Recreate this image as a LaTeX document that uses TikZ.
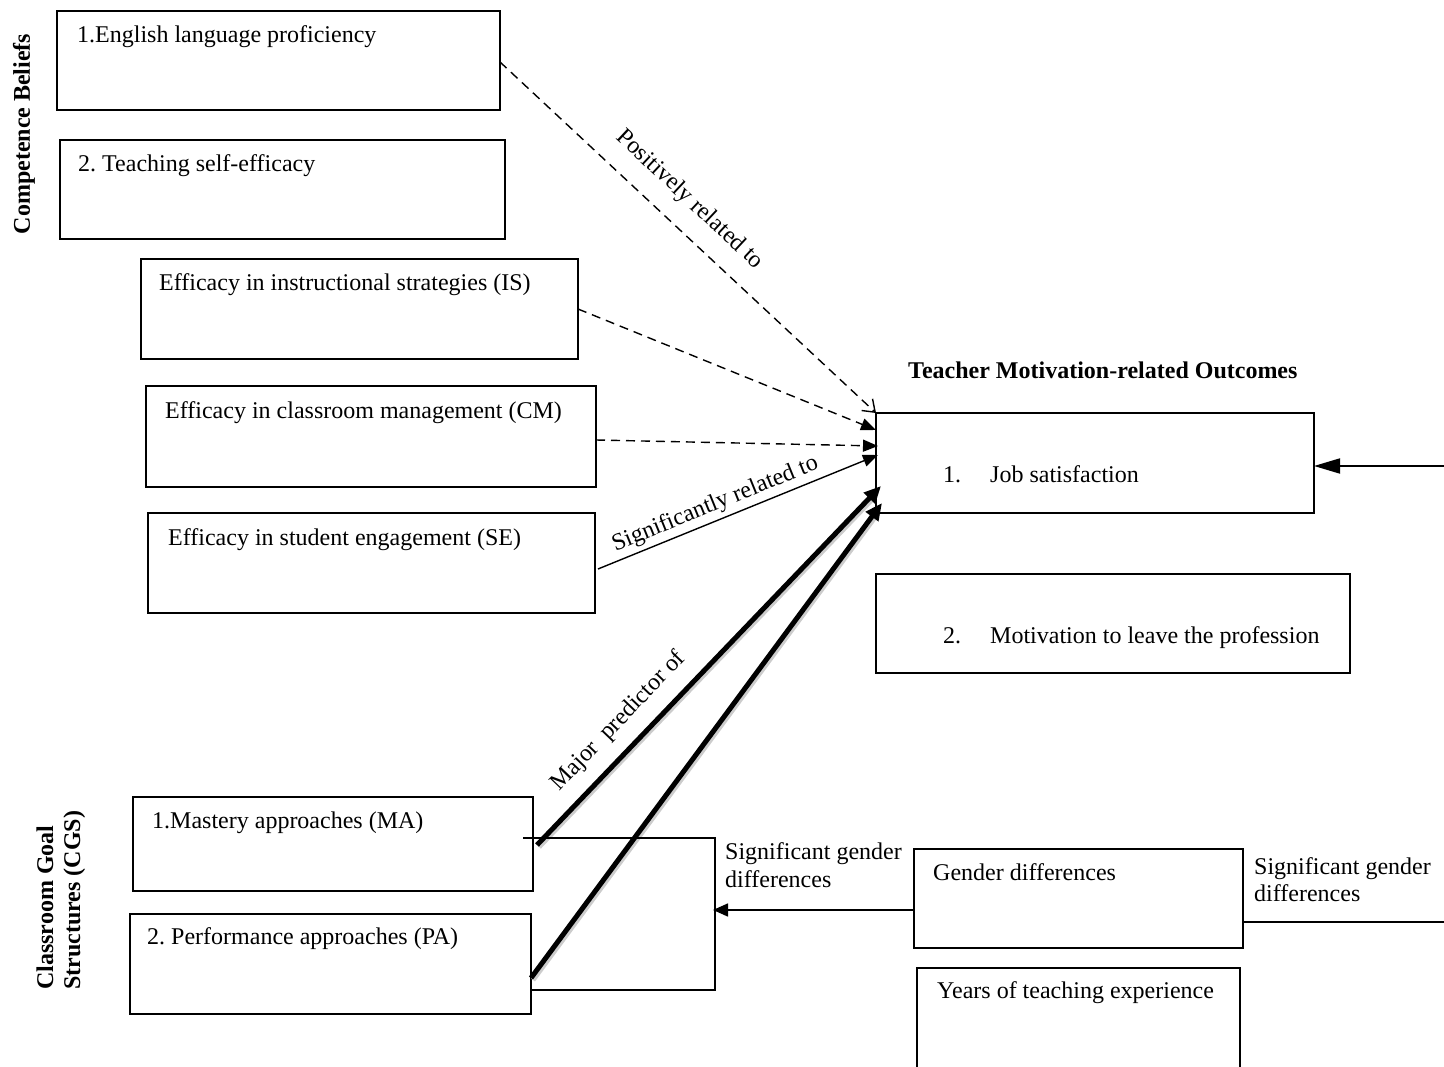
\documentclass[tikz,border=0pt]{standalone}
\usepackage{fontspec}
\setmainfont{Liberation Serif}
\usetikzlibrary{arrows.meta,calc}
\begin{document}
\frenchspacing
\begin{tikzpicture}[x=1pt,y=-1pt,
  box/.style={draw, line width=1.6pt, inner sep=0pt, outer sep=0pt, anchor=north west},
  txt/.style={inner sep=0pt, anchor=base west, font=\fontsize{24}{28}\selectfont\frenchspacing},
  btxt/.style={inner sep=0pt, font=\fontsize{24}{28}\selectfont\bfseries},
  dashln/.style={line width=1.4pt, dash pattern=on 9pt off 6pt},
  tri/.style={-{Triangle[length=15pt,width=12pt]}},
  thickln/.style={line width=5pt, -{Triangle[length=17pt,width=15pt]}},
  shadowln/.style={line width=5pt, draw=black!20, shorten >=12pt, transform canvas={shift={(2pt,-2pt)}}},
  lbl/.style={inner sep=0pt, sloped, font=\fontsize{24}{28}\selectfont},
]
\useasboundingbox (0,0) rectangle (1444,1067);
\clip (0,0) rectangle (1444,1067);

% boxes
\node[box, minimum width=443pt, minimum height=99pt]  (b1)  at (57,11)  {};
\node[box, minimum width=445pt, minimum height=99pt]  (b2)  at (60,140) {};
\node[box, minimum width=437pt, minimum height=100pt] (is)  at (141,259) {};
\node[box, minimum width=450pt, minimum height=101pt] (cm)  at (146,386) {};
\node[box, minimum width=447pt, minimum height=100pt] (se)  at (148,513) {};
\node[box, minimum width=438pt, minimum height=100pt] (job) at (876,413) {};
\node[box, minimum width=474pt, minimum height=99pt]  (mot) at (876,574) {};
\node[box, minimum width=400pt, minimum height=94pt]  (ma)  at (133,797) {};
\node[box, minimum width=401pt, minimum height=100pt] (pa)  at (130,914) {};
\node[box, minimum width=329pt, minimum height=99pt]  (gen) at (914,849) {};
\node[box, minimum width=323pt, minimum height=110pt] (yrs) at (917,968) {};

% box texts
\node[txt] (t1)  at (77,43)   {1.English language proficiency};
\node[txt] (t2)  at (78,172)  {2. Teaching self-efficacy};
\node[txt] (t3)  at (159,291) {Efficacy in instructional strategies (IS)};
\node[txt] (t4)  at (165,418) {Efficacy in classroom management (CM)};
\node[txt] (t5)  at (168,545) {Efficacy in student engagement (SE)};
\node[txt] (t6)  at (943,482) {1.\hspace{29pt}Job satisfaction};
\node[txt] (t7)  at (943,643) {2.\hspace{29pt}Motivation to leave the profession};
\node[txt] (t8)  at (152,828) {1.Mastery approaches (MA)};
\node[txt] (t9)  at (147,944) {2. Performance approaches (PA)};
\node[txt] (t10) at (933,880) {Gender differences};
\node[txt] (t11) at (937,998) {Years of teaching experience};

% headings
\node[btxt, anchor=base west] (title) at (908,379) {Teacher Motivation-related Outcomes};
\node[btxt, anchor=base, rotate=90] (cb) at (30,134) {Competence Beliefs};
\node[btxt, anchor=base west, rotate=90] (cgs1) at (53,990) {Classroom Goal};
\node[btxt, anchor=base west, rotate=90] (cgs2) at (80,990) {Structures (CGS)};

% side labels
\node[txt] (sg1a) at (725,859) {Significant gender};
\node[txt] (sg1b) at (725,887) {differences};
\node[txt] (sg2a) at (1254,874) {Significant gender};
\node[txt] (sg2b) at (1254,901) {differences};

% dashed connectors
\draw[dashln, -{Straight Barb[length=11pt,width=16pt,line width=1.4pt]}]
  ($(b1.east)+(0,1.5)$) -- (job.north west)
  node[lbl, pos=0.452, above=17pt] (l1) {Positively related to};
\draw[dashln, tri] (is.east) -- ($(job.north west)+(0,17)$);
\draw[dashln, tri] ($(cm.east)+(0,3.5)$) -- ($(job.north west)+(2,33)$);

% solid thin connector
\draw[line width=1.4pt, tri] ($(se.east)+(3,6)$) -- ($(job.north west)+(2,42)$)
  node[lbl, pos=0.44, above=4pt] (l2) {Significantly related to};

% thick connectors with shadow
\draw[shadowln] ($(ma.east)+(4,1)$) -- ($(job.north west)+(5,73)$);
\draw[shadowln] ($(pa.east)+(0,14)$) -- ($(job.north west)+(6,90)$);
\draw[thickln] ($(ma.east)+(4,1)$) -- ($(job.north west)+(5,73)$)
  node[lbl, pos=0.293, above=13pt] (l3) {Major\ \ predictor of};
\draw[thickln] ($(pa.east)+(0,14)$) -- ($(job.north west)+(6,90)$);

% bracket between MA and PA
\coordinate (brs) at (523,838);
\coordinate (brt) at (715,838);
\coordinate (brb) at (715,990);
\draw[line width=1.6pt] (brs) -- (brt) -- (brb) -- (brb -| pa.east);

% gender arrow into bracket
\coordinate (gtip) at (713,910);
\draw[line width=1.6pt, -{Triangle[length=15pt,width=13pt]}] (gtip -| gen.west) -- (gtip);

% right side lines
\coordinate (rin) at (1444,466);
\draw[line width=1.8pt, -{Triangle[length=26pt,width=15pt]}] (rin) -- (rin -| job.east);
\coordinate (gout) at (1444,922);
\draw[line width=1.6pt] (gout -| gen.east) -- (gout);
\end{tikzpicture}
\end{document}
